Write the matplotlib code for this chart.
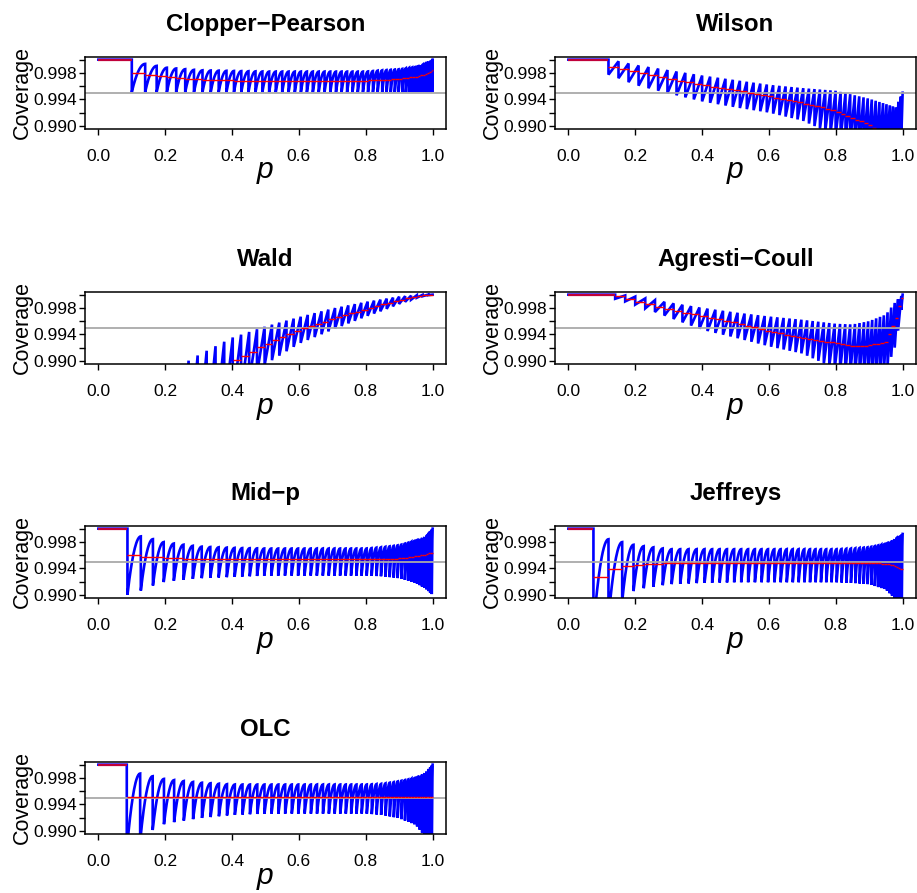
import numpy as np
import matplotlib
matplotlib.use("Agg")
import matplotlib.pyplot as plt

plt.rcParams["font.family"] = ["Liberation Sans", "DejaVu Sans"]

# p values at which the tooth spacing, peak, trough and mean coverage are tabulated
p_knots = [0.10, 0.15, 0.20, 0.30, 0.40, 0.50, 0.60, 0.70, 0.80, 0.85, 0.90, 0.95, 0.98, 1.00]

cp_start = 0.100
cp_width = [0.040, 0.033, 0.028, 0.025, 0.022, 0.020, 0.018, 0.017, 0.015, 0.013, 0.011, 0.008, 0.006, 0.004]
cp_peak = [0.9996, 0.9993, 0.9988, 0.9984, 0.9983, 0.9982, 0.9982, 0.9982, 0.9982, 0.9984, 0.99855, 0.9989, 0.9994, 1.0000]
cp_trough = [0.9951, 0.9951, 0.9951, 0.9951, 0.9951, 0.9951, 0.9951, 0.9951, 0.9951, 0.9951, 0.9951, 0.9951, 0.9951, 0.9951]
cp_mean = [0.9981, 0.9977, 0.9975, 0.9970, 0.99685, 0.99675, 0.99675, 0.99675, 0.99685, 0.9969, 0.9971, 0.9974, 0.9978, 0.9984]

wilson_start = 0.120
wilson_width = [0.030, 0.030, 0.030, 0.027, 0.024, 0.021, 0.019, 0.017, 0.015, 0.0135, 0.012, 0.010, 0.008, 0.006]
wilson_peak = [0.9998, 0.99975, 0.9992, 0.9984, 0.9976, 0.9969, 0.9962, 0.9957, 0.9953, 0.9947, 0.9941, 0.9933, 0.9928, 0.9950]
wilson_trough = [0.9981, 0.9972, 0.9962, 0.9949, 0.9937, 0.9928, 0.9920, 0.9908, 0.9885, 0.9875, 0.9865, 0.9860, 0.9860, 0.9860]
wilson_mean = [0.9991, 0.99875, 0.99825, 0.9972, 0.9962, 0.9954, 0.9945, 0.9935, 0.9923, 0.9912, 0.9902, 0.9885, 0.9880, 0.9880]

wald_start = 0.0
wald_width = [0.027, 0.027, 0.027, 0.027, 0.025, 0.022, 0.021, 0.020, 0.019, 0.019, 0.018, 0.017, 0.017, 0.017]
wald_peak = [0.9850, 0.9860, 0.9880, 0.9909, 0.9935, 0.9952, 0.9966, 0.9979, 0.9989, 0.9993, 0.9997, 0.9999, 1.0000, 1.0000]
wald_trough = [0.9600, 0.9650, 0.9700, 0.9770, 0.9840, 0.9895, 0.9926, 0.9947, 0.9967, 0.9976, 0.9986, 0.9995, 0.9999, 1.0000]
wald_mean = [0.9750, 0.9780, 0.9810, 0.9850, 0.9897, 0.9924, 0.9947, 0.9963, 0.9978, 0.9985, 0.9991, 0.9997, 0.9999, 1.0000]

ac_start = 0.140
ac_width = [0.030, 0.030, 0.030, 0.027, 0.024, 0.021, 0.019, 0.017, 0.016, 0.014, 0.012, 0.011, 0.010, 0.009]
ac_peak = [1.0000, 1.0000, 0.9997, 0.9988, 0.9980, 0.9973, 0.9967, 0.9962, 0.9956, 0.9955, 0.9960, 0.9970, 0.9990, 1.0000]
ac_trough = [0.9997, 0.9993, 0.9985, 0.9966, 0.9947, 0.9935, 0.9922, 0.9911, 0.9888, 0.9880, 0.9878, 0.9885, 0.9925, 0.9990]
ac_mean = [0.9999, 0.9998, 0.9991, 0.9978, 0.9968, 0.9958, 0.9945, 0.9935, 0.9927, 0.9923, 0.9923, 0.9929, 0.9962, 0.9998]

midp_start = 0.087
midp_width = [0.040, 0.033, 0.030, 0.026, 0.023, 0.021, 0.019, 0.017, 0.015, 0.013, 0.011, 0.008, 0.006, 0.004]
midp_peak = [0.9991, 0.9986, 0.9979, 0.9973, 0.9971, 0.9970, 0.9970, 0.9970, 0.9970, 0.9972, 0.9975, 0.9982, 0.9988, 1.0000]
midp_trough = [0.9900, 0.9912, 0.9920, 0.9925, 0.9927, 0.9929, 0.9929, 0.9929, 0.9929, 0.9928, 0.9925, 0.9918, 0.9909, 0.9900]
midp_mean = [0.9960, 0.99575, 0.9956, 0.9954, 0.99535, 0.99535, 0.99535, 0.99535, 0.99535, 0.9954, 0.9955, 0.9958, 0.9961, 0.9964]

jeff_start = 0.075
jeff_width = [0.045, 0.035, 0.030, 0.026, 0.023, 0.021, 0.019, 0.017, 0.015, 0.013, 0.011, 0.008, 0.006, 0.004]
jeff_peak = [0.9986, 0.9981, 0.9975, 0.9969, 0.9969, 0.9969, 0.9969, 0.9969, 0.9969, 0.9970, 0.9972, 0.9977, 0.9985, 0.9992]
jeff_trough = [0.9850, 0.9885, 0.9908, 0.9916, 0.9918, 0.9919, 0.9919, 0.9919, 0.9919, 0.9918, 0.9916, 0.9908, 0.9893, 0.9880]
jeff_mean = [0.9927, 0.99425, 0.99445, 0.9948, 0.9948, 0.9948, 0.9948, 0.9948, 0.9948, 0.9948, 0.9948, 0.9947, 0.9944, 0.9938]

olc_start = 0.085
olc_width = [0.040, 0.035, 0.030, 0.026, 0.023, 0.021, 0.019, 0.017, 0.015, 0.013, 0.011, 0.008, 0.006, 0.004]
olc_peak = [0.9989, 0.9984, 0.9978, 0.9973, 0.9970, 0.9970, 0.9970, 0.9970, 0.9970, 0.9971, 0.9975, 0.9980, 0.9988, 1.0000]
olc_trough = [0.9870, 0.9898, 0.9911, 0.9919, 0.9924, 0.9926, 0.9926, 0.9926, 0.9926, 0.9924, 0.9919, 0.9909, 0.9890, 0.9880]
olc_mean = [0.99505] * len(p_knots)

nominal = 0.995

# name, data, and the bend of each tooth's rise (2 = curved, 1 = straight)
panels = [
    ("Clopper\u2212Pearson", cp_start, cp_width, cp_peak, cp_trough, cp_mean, 2),
    ("Wilson", wilson_start, wilson_width, wilson_peak, wilson_trough, wilson_mean, 1),
    ("Wald", wald_start, wald_width, wald_peak, wald_trough, wald_mean, 1),
    ("Agresti\u2212Coull", ac_start, ac_width, ac_peak, ac_trough, ac_mean, 1),
    ("Mid\u2212p", midp_start, midp_width, midp_peak, midp_trough, midp_mean, 2),
    ("Jeffreys", jeff_start, jeff_width, jeff_peak, jeff_trough, jeff_mean, 2),
    ("OLC", olc_start, olc_width, olc_peak, olc_trough, olc_mean, 2),
]


def tooth_edges(start, width):
    edges = [start]
    while edges[-1] < 1.0 - 1e-9:
        step = np.interp(edges[-1], p_knots, width)
        edges.append(min(edges[-1] + step, 1.0))
    return np.array(edges)


def coverage_curve(start, width, peak, trough, bend):
    edges = tooth_edges(start, width)
    xs, ys = [], []
    if start > 0:
        xs += [0.0, start]
        ys += [1.0, 1.0]
    t = np.linspace(0, 1, 30)
    for a, b in zip(edges[:-1], edges[1:]):
        lo = np.interp(a, p_knots, trough)
        hi = np.interp(b, p_knots, peak)
        xs += list(a + t * (b - a))
        ys += list(lo + (hi - lo) * (1 - (1 - t) ** bend))
    return np.array(xs), np.array(ys), edges


W, H = 917, 893
fig = plt.figure(figsize=(W / 100, H / 100), dpi=100)

col_left = [85, 555]
row_top = [57, 292, 526, 762]
box_w, box_h = 361, 71.5

for i, (name, start, width, peak, trough, mean, bend) in enumerate(panels):
    r, c = divmod(i, 2)
    ax = fig.add_axes([col_left[c] / W, 1 - (row_top[r] + box_h) / H, box_w / W, box_h / H])

    xs, ys, edges = coverage_curve(start, width, peak, trough, bend)
    ax.plot(xs, ys, color="#0000FF", lw=1.9, solid_joinstyle="miter")
    ax.axhline(nominal, color="#A9A9A9", lw=1.3)

    # mean coverage, one level per tooth
    mids = 0.5 * (edges[:-1] + edges[1:])
    ax.hlines(np.interp(mids, p_knots, mean), edges[:-1], edges[1:], color="#FF0000", lw=1.0)
    if start > 0:
        ax.hlines(1.0, 0.0, start, color="#C0003A", lw=1.6)

    ax.set_xlim(-0.04, 1.04)
    ax.set_ylim(0.9896, 1.0004)
    ax.set_xticks(np.arange(0, 1.01, 0.2))
    ax.set_xticklabels(["0.0", "0.2", "0.4", "0.6", "0.8", "1.0"])
    yt = [0.990, 0.992, 0.994, 0.996, 0.998, 1.000]
    ax.set_yticks(yt)
    ax.set_yticklabels(["0.990", "", "0.994", "", "0.998", ""])
    ax.tick_params(direction="out", length=4, width=1, labelsize=12.5, pad=11)
    ax.tick_params(axis="y", pad=2)
    for s in ax.spines.values():
        s.set_linewidth(1.1)

    ax.set_title(name, fontsize=17.3, fontweight="bold", pad=19)
    ax.set_ylabel("Coverage", fontsize=15.5, va="center")
    ax.yaxis.set_label_coords(-63 / box_w, 0.5)
    ax.set_xlabel("p", fontsize=21.5, fontstyle="italic", va="baseline")
    ax.xaxis.set_label_coords(0.5, -50 / box_h)

fig.savefig("out.png", dpi=100)
